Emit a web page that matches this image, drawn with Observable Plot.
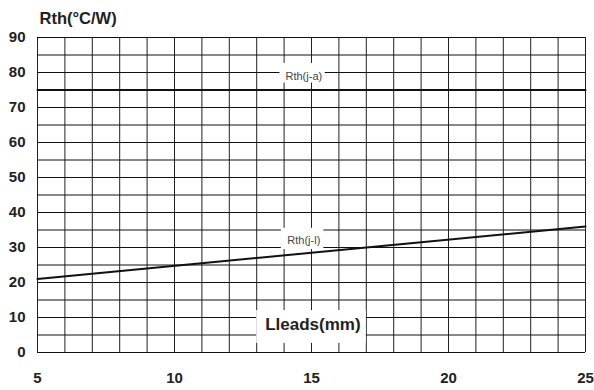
<!DOCTYPE html>
<html>
<head>
<meta charset="utf-8">
<script src="https://cdn.jsdelivr.net/npm/d3@7"></script>
<script src="https://cdn.jsdelivr.net/npm/@observablehq/plot@0.6"></script>
<style>
  html, body { margin: 0; padding: 0; background: #fff; }
  svg { display: block; }
</style>
</head>
<body>
<div id="chart"></div>
<script>
// Data
const xTicks = [5, 10, 15, 20, 25];
const yTicks = [0, 10, 20, 30, 40, 50, 60, 70, 80, 90];
const seriesNames = ["Rth(j-a)", "Rth(j-l)"];
const leadLength = [5, 25];
const rthJA = [75, 75];
const rthJL = [21, 36];
const yTitle = "Rth(°C/W)";
const xTitle = "Lleads(mm)";

const rows = [];
leadLength.forEach((x, i) => {
  rows.push({series: seriesNames[0], x, y: rthJA[i]});
  rows.push({series: seriesNames[1], x, y: rthJL[i]});
});

// label annotations (boxes behind text)
const labels = [
  {text: seriesNames[0], x: 14.72, y: 79.0, x1: 13.85, x2: 15.5, y1: 77, y2: 82.6, size: 11, weight: "normal", color: "#444"},
  {text: seriesNames[1], x: 14.72, y: 31.9, x1: 13.9, x2: 15.45, y1: 29.4, y2: 35.5, size: 11, weight: "normal", color: "#444"},
  {text: xTitle, x: 15.05, y: 8.1, x1: 13, x2: 17, y1: 2.6, y2: 12, size: 17, weight: "bold", color: "#222"}
];

const chart = Plot.plot({
  width: 594,
  height: 390,
  marginLeft: 37,
  marginRight: 9,
  marginTop: 37,
  marginBottom: 38,
  style: {fontFamily: "'Liberation Sans', Arial, sans-serif", background: "#fff"},
  x: {domain: [5, 25], label: null},
  y: {domain: [0, 90], label: null},
  marks: [
    Plot.ruleX(d3.range(5, 26, 1), {stroke: "#222", strokeWidth: 1}),
    Plot.ruleY(d3.range(0, 91, 5), {stroke: "#111", strokeWidth: 1}),
    Plot.rect(labels, {x1: "x1", x2: "x2", y1: "y1", y2: "y2", fill: "white"}),
    Plot.line(rows, {x: "x", y: "y", z: "series", stroke: "#111", strokeWidth: 2}),
    Plot.axisX({ticks: xTicks, tickSize: 0, tickPadding: 20, fontSize: 15, fontWeight: "bold", fill: "#222", label: null, tickFormat: d => String(d)}),
    Plot.axisY({ticks: yTicks, tickSize: 0, tickPadding: 12, fontSize: 15, fontWeight: "bold", fill: "#222", label: null, tickFormat: d => String(d)}),
    ...labels.map(l => Plot.text([l], {x: "x", y: "y", text: "text", fontSize: l.size, fontWeight: l.weight, fill: l.color})),
    Plot.text([yTitle], {frameAnchor: "top-left", dx: 2, dy: -25, textAnchor: "start", fontSize: 16.5, fontWeight: "bold", fill: "#222"})
  ]
});
document.getElementById("chart").appendChild(chart);
</script>
</body>
</html>
